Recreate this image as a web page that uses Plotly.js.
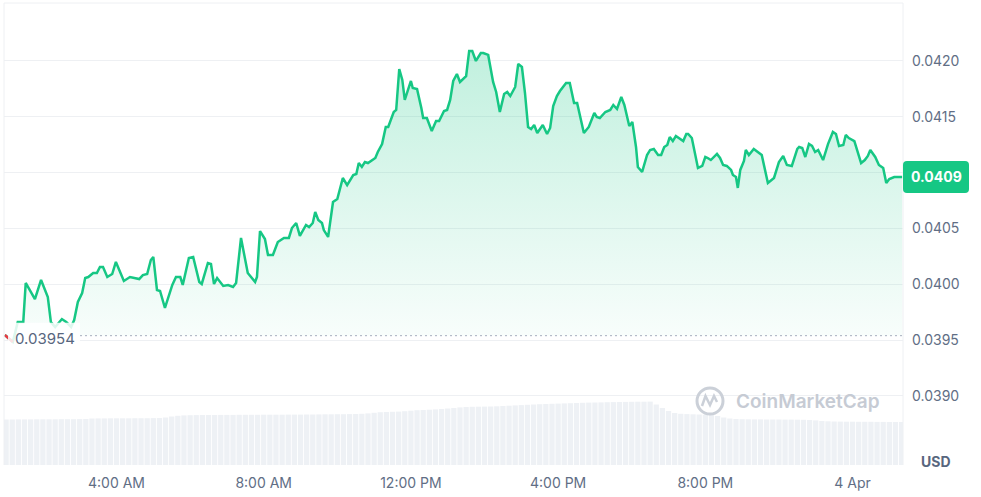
<!DOCTYPE html>
<html><head><meta charset="utf-8">
<script src="https://cdn.plot.ly/plotly-3.0.1.min.js"></script>
<style>html,body{margin:0;padding:0;background:#fff;} #chart{width:981px;height:497px;}</style>
</head><body><div id="chart"></div>
<script>
// ---- DATA ----
// minutes since 2024-04-03 00:00
const minutes = [58,71,79,88,92,107,117,128,133,140,151,158,166,171,177,184,189,194,202,208,213,218,225,233,239,246,252,262,270,277,283,290,296,300,306,311,319,331,337,344,348,358,365,375,379,389,394,399,404,414,422,430,435,443,454,466,469,474,482,487,495,503,513,521,526,533,539,549,554,560,564,569,575,578,585,593,600,609,616,626,631,635,640,645,650,657,662,666,673,679,683,692,696,701,706,710,720,723,730,737,740,746,754,761,766,774,779,784,789,795,800,810,815,820,826,834,838,846,854,859,865,872,877,882,890,895,901,906,911,916,921,926,935,942,947,952,958,963,968,973,979,986,991,1002,1010,1019,1023,1028,1037,1045,1050,1056,1063,1068,1076,1081,1087,1090,1097,1105,1110,1116,1123,1128,1133,1138,1142,1147,1152,1159,1164,1169,1172,1178,1188,1195,1200,1204,1209,1219,1224,1229,1235,1242,1245,1250,1253,1257,1263,1266,1271,1279,1286,1292,1302,1312,1320,1327,1333,1341,1350,1353,1358,1363,1369,1374,1379,1384,1392,1400,1408,1413,1418,1425,1429,1434,1443,1454,1460,1465,1469,1477,1483,1490,1495,1500,1508,1513,1521];
const price = [0.039546,0.039483,0.039663,0.039663,0.040012,0.039868,0.040039,0.039886,0.039663,0.039618,0.039689,0.039663,0.039618,0.039680,0.039842,0.039922,0.040056,0.040065,0.040101,0.040101,0.040155,0.040155,0.040065,0.040092,0.040200,0.040101,0.040030,0.040065,0.040056,0.040047,0.040083,0.040092,0.040218,0.040245,0.039949,0.039940,0.039788,0.039994,0.040065,0.040065,0.039994,0.040236,0.040245,0.040021,0.040003,0.040191,0.040182,0.040003,0.040056,0.039985,0.039994,0.039976,0.040012,0.040415,0.040101,0.040021,0.040065,0.040477,0.040406,0.040262,0.040262,0.040379,0.040415,0.040415,0.040504,0.040549,0.040433,0.040531,0.040513,0.040549,0.040648,0.040576,0.040549,0.040486,0.040424,0.040737,0.040764,0.040952,0.040889,0.040979,0.040988,0.041086,0.041051,0.041095,0.041086,0.041113,0.041131,0.041185,0.041256,0.041409,0.041409,0.041543,0.041561,0.041928,0.041830,0.041651,0.041821,0.041758,0.041749,0.041579,0.041489,0.041489,0.041373,0.041462,0.041462,0.041552,0.041561,0.041651,0.041821,0.041883,0.041812,0.041865,0.042089,0.042089,0.042000,0.042071,0.042071,0.042054,0.041812,0.041722,0.041543,0.041704,0.041722,0.041686,0.041767,0.041973,0.041946,0.041713,0.041409,0.041391,0.041427,0.041355,0.041427,0.041346,0.041400,0.041597,0.041686,0.041731,0.041767,0.041803,0.041803,0.041624,0.041624,0.041355,0.041409,0.041534,0.041498,0.041489,0.041543,0.041561,0.041606,0.041570,0.041677,0.041606,0.041418,0.041453,0.041230,0.041051,0.041006,0.041158,0.041203,0.041212,0.041158,0.041158,0.041230,0.041248,0.041319,0.041283,0.041328,0.041301,0.041283,0.041346,0.041346,0.041310,0.041042,0.041060,0.041140,0.041131,0.041113,0.041167,0.041131,0.041069,0.041060,0.041024,0.040979,0.040961,0.040863,0.041024,0.041104,0.041203,0.041158,0.041212,0.041185,0.041158,0.040907,0.040952,0.041095,0.041149,0.041069,0.041060,0.041212,0.041230,0.041221,0.041140,0.041256,0.041239,0.041185,0.041203,0.041113,0.041256,0.041364,0.041346,0.041239,0.041248,0.041337,0.041310,0.041283,0.041086,0.041113,0.041149,0.041203,0.041140,0.041069,0.041042,0.040907,0.040943,0.040961,0.040961,0.040961];
const baselinePrice = 0.03954;
// 24h volume (relative units), one bar every 10 minutes starting 01:00
const volume = [45.5,45.5,45.6,45.6,45.6,45.7,45.7,45.7,45.7,45.8,45.8,45.8,45.9,46.0,
46.5,46.6,46.6,46.7,46.7,46.7,46.7,46.8,46.8,46.8,46.9,47.0,47.5,
48.5,49.2,49.6,49.8,49.9,50.0,50.0,50.0,50.1,50.1,50.1,50.2,50.2,50.2,50.2,50.3,50.3,50.3,50.3,50.4,50.4,50.4,50.5,50.5,
50.6,50.7,50.7,50.8,50.8,50.9,51.0,51.2,51.6,52.2,
52.8,53.0,53.2,53.4,53.8,54.3,
54.8,55.0,55.3,55.6,56.0,56.5,57.0,57.6,
58.0,58.2,58.3,58.4,58.5,58.7,59.0,59.3,59.6,59.9,60.2,60.5,
60.8,61.0,61.2,61.4,61.6,61.8,62.0,62.2,62.4,62.5,62.6,
62.8,62.9,63.0,63.1,63.2,63.3,63.3,63.4,
60.5,57.0,54.0,52.0,
51.2,50.9,50.7,50.5,50.3,50.0,49.0,
47.5,46.5,46.0,45.8,45.7,45.6,45.6,45.5,45.5,45.5,45.4,45.4,45.3,45.2,45.0,44.6,
44.0,43.7,43.5,43.4,43.3,43.3,43.2,43.2,43.2,43.1,43.1,43.0,43.0,43.0];
const volStartMinute = 60, volStepMinutes = 10;
const tickTimes = ['2024-04-03 04:00','2024-04-03 08:00','2024-04-03 12:00','2024-04-03 16:00','2024-04-03 20:00','2024-04-04 00:00'];
const tickLabels = ['4:00 AM','8:00 AM','12:00 PM','4:00 PM','8:00 PM','4 Apr'];
const priceTicks = [0.0390,0.0395,0.0400,0.0405,0.0410,0.0415,0.0420];
const currency = 'USD';
const brand = 'CoinMarketCap';

// ---- helpers ----
function toTime(m){ const d=new Date(Date.UTC(2024,3,3,0,0,0)+Math.round(m*60000)); return d.toISOString().slice(0,19).replace('T',' '); }
const times = minutes.map(toTime);
const volTimes = volume.map((v,i)=>toTime(volStartMinute+i*volStepMinutes));
const baseArr = minutes.map(()=>baselinePrice);

const W=981,H=497, M={l:4,r:78,t:3,b:32};
const PW=W-M.l-M.r, PH=H-M.t-M.b;
const yRange=[0.038382,0.042519];
const px = x => (x-M.l)/PW;
const py = y => (H-M.b-y)/PH;
const vp = v => (v-yRange[0])/(yRange[1]-yRange[0]);

const GREEN='#16c784', RED='#ea3943', GRID='#eef0f3', TXT='#616e85';
const last = price[price.length-1];
const lastLabel = (Math.floor(last*10000)/10000).toFixed(4);
const bp = vp(baselinePrice), lp = vp(last);
// the price tag hides the tick label it sits on
const priceTickText = priceTicks.map(v => Math.abs(vp(v)-lp)*PH < 18 ? '' : v.toFixed(4));

function roundRect(x0,x1,y0,y1,rpx){
  const rx=rpx/PW, ry=rpx/PH;
  return `M ${x0+rx},${y0} L ${x1-rx},${y0} Q ${x1},${y0} ${x1},${y0+ry} L ${x1},${y1-ry} Q ${x1},${y1} ${x1-rx},${y1} L ${x0+rx},${y1} Q ${x0},${y1} ${x0},${y1-ry} L ${x0},${y0+ry} Q ${x0},${y0} ${x0+rx},${y0} Z`;
}

const traces = [
  {x:volTimes, y:volume, type:'bar', yaxis:'y2', marker:{color:'#eef1f5', line:{width:0}}, hoverinfo:'skip'},
  {x:times, y:baseArr, type:'scatter', mode:'lines', line:{width:0, color:'rgba(0,0,0,0)'}, hoverinfo:'skip'},
  {x:times, y:price, type:'scatter', mode:'lines', fill:'tonexty',
   fillgradient:{type:'vertical', start:baselinePrice, stop:0.04212, colorscale:[[0,'rgba(22,199,132,0.03)'],[1,'rgba(22,199,132,0.27)']]},
   line:{color:GREEN, width:2.5, shape:'linear'}, hoverinfo:'skip'},
  {x:times.slice(0,2), y:price.slice(0,2), type:'scatter', mode:'lines', line:{color:RED, width:2.5}, hoverinfo:'skip'}
];

const layout = {
  width:W, height:H, margin:M, paper_bgcolor:'#fff', plot_bgcolor:'#fff', showlegend:false,
  font:{family:'Inter, sans-serif', size:14, color:TXT},
  bargap:0.14,
  xaxis:{type:'date', range:['2024-04-03 00:56:35','2024-04-04 01:22:18'], showgrid:false, zeroline:false, showline:false,
         tickmode:'array', tickvals:tickTimes, ticktext:tickLabels, ticks:'', ticklabelstandoff:8, tickfont:{size:14, color:TXT}},
  yaxis:{side:'right', range:yRange, tickmode:'array', tickvals:priceTicks, ticktext:priceTickText, showgrid:true, gridcolor:GRID, gridwidth:1,
         zeroline:false, showline:false, ticks:'', ticklabelstandoff:8, tickfont:{size:14, color:TXT}},
  yaxis2:{overlaying:'y', range:[0,PH], visible:false, showgrid:false, zeroline:false},
  shapes:[
    {type:'line', xref:'paper', yref:'paper', x0:0, x1:0, y0:0, y1:1, line:{color:GRID, width:1}},
    {type:'line', xref:'paper', yref:'paper', x0:1, x1:1, y0:0, y1:1, line:{color:GRID, width:1}},
    {type:'line', xref:'paper', yref:'paper', x0:0, x1:1, y0:1, y1:1, line:{color:GRID, width:1}},
    {type:'line', xref:'paper', yref:'paper', x0:px(80), x1:1, y0:bp, y1:bp, line:{color:'#a6adbd', width:1, dash:'2px,3px'}},
    {type:'rect', xref:'paper', yref:'paper', x0:px(8), x1:px(80), y0:bp-13/PH, y1:bp+13/PH, fillcolor:'rgba(255,255,255,0.85)', line:{width:0}, layer:'above'},
    {type:'path', xref:'paper', yref:'paper', path:roundRect(1, px(969), lp-16/PH, lp+16/PH, 4), fillcolor:GREEN, line:{width:0}, layer:'above'},
    {type:'circle', xref:'paper', yref:'paper', x0:px(697), x1:px(723), y0:py(414), y1:py(388), line:{color:'#cbd0d8', width:3}, fillcolor:'rgba(0,0,0,0)', layer:'above'},
    {type:'path', xref:'paper', yref:'paper', path:`M ${px(702)},${py(406)} L ${px(705.5)},${py(396)} L ${px(710)},${py(405)} L ${px(714)},${py(396)} L ${px(717)},${py(402)}`, line:{color:'#cbd0d8', width:2.5}, layer:'above'}
  ],
  annotations:[
    {xref:'paper', yref:'paper', x:px(936), y:lp, text:lastLabel, showarrow:false, xanchor:'center', yanchor:'middle', font:{family:'Inter, sans-serif', size:14, color:'#ffffff', weight:700}},
    {xref:'paper', yref:'paper', x:px(13), y:bp-3/PH, text:baselinePrice.toFixed(5), showarrow:false, xanchor:'left', yanchor:'middle', font:{family:'Inter, sans-serif', size:15, color:'#58667e'}},
    {xref:'paper', yref:'paper', x:px(936), y:py(461), text:currency, showarrow:false, xanchor:'center', yanchor:'middle', font:{family:'Inter, sans-serif', size:14, color:'#58667e', weight:700}},
    {xref:'paper', yref:'paper', x:px(734), y:py(401), text:brand, showarrow:false, xanchor:'left', yanchor:'middle', font:{family:'Inter, sans-serif', size:19, color:'#c6cbd4', weight:600}}
  ],
  hovermode:false
};
Plotly.newPlot('chart', traces, layout, {staticPlot:true, displayModeBar:false});
</script>
</body></html>
